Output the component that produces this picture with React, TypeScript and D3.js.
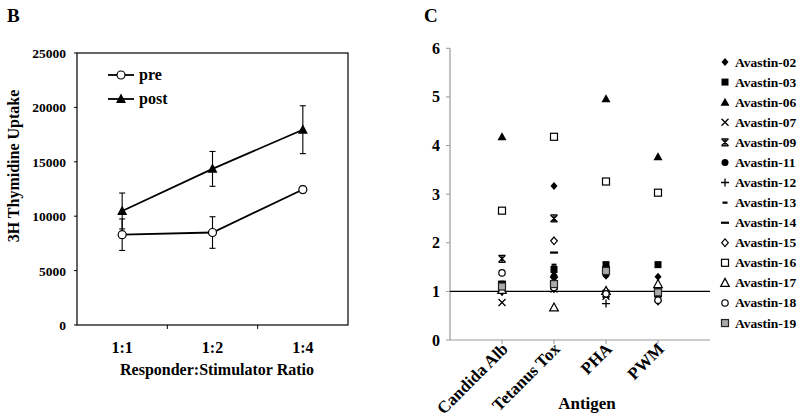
import React from 'react';
import * as d3 from 'd3';

// ---------- Panel B data ----------
const ratios = ['1:1', '1:2', '1:4'];
const preMean = [8300, 8500, 12450];
const preErr = [1450, 1450, 300];
const postMean = [10480, 14350, 17950];
const postErr = [1650, 1600, 2200];
const leftTicks = [0, 5000, 10000, 15000, 20000, 25000];

// ---------- Panel C data ----------
const antigens = ['Candida Alb', 'Tetanus Tox', 'PHA', 'PWM'];
const patients = [
  'Avastin-02', 'Avastin-03', 'Avastin-06', 'Avastin-07', 'Avastin-09', 'Avastin-11', 'Avastin-12',
  'Avastin-13', 'Avastin-14', 'Avastin-15', 'Avastin-16', 'Avastin-17', 'Avastin-18', 'Avastin-19',
];
const markerTypes = [
  'diamondFilled', 'squareFilled', 'triangleFilled', 'x', 'asterisk', 'circleFilled', 'plus',
  'dashShort', 'dashLong', 'diamondOpen', 'squareOpen', 'triangleOpen', 'circleOpen', 'squareGrey',
];
const candidaVals = [1.05, 1.12, 4.18, 0.77, 1.67, 1.1, 1.0, 1.2, 1.2, 1.0, 2.66, 1.03, 1.38, 1.1];
const tetanusVals = [3.17, 1.45, 1.35, 1.05, 2.5, 1.3, 1.05, 1.55, 1.8, 2.04, 4.18, 0.67, 1.08, 1.15];
const phaVals = [1.32, 1.55, 4.96, 0.9, 0.95, 1.35, 0.75, 0.9, 1.5, 1.0, 3.26, 1.01, 0.95, 1.42];
const pwmVals = [1.3, 1.55, 3.77, 0.95, 1.0, 1.05, 0.9, 1.0, 1.1, 0.8, 3.03, 1.15, 0.82, 0.98];
const rightTicks = [0, 1, 2, 3, 4, 5, 6];

const FONT = '"Liberation Serif", "Times New Roman", serif';

function Marker({ type, x, y }: { type: string; x: number; y: number }) {
  const t = `translate(${x},${y})`;
  const k = '#000';
  switch (type) {
    case 'diamondFilled':
      return <path transform={t} d="M0,-4L3.5,0L0,4L-3.5,0Z" fill={k} />;
    case 'squareFilled':
      return <rect x={x - 3.5} y={y - 3.5} width={7} height={7} fill={k} />;
    case 'triangleFilled':
      return <path transform={t} d="M0,-4.5L4.5,3.5L-4.5,3.5Z" fill={k} />;
    case 'x':
      return <path transform={t} d="M-3.5,-3.5L3.5,3.5M3.5,-3.5L-3.5,3.5" stroke={k} strokeWidth={1.3} fill="none" />;
    case 'asterisk':
      return <path transform={t} d="M-3.5,-3.5L3.5,3.5M3.5,-3.5L-3.5,3.5M0,-4V4M-3.5,-3.5H3.5M-3.5,3.5H3.5" stroke={k} strokeWidth={1.3} fill="none" />;
    case 'circleFilled':
      return <circle cx={x} cy={y} r={3.5} fill={k} />;
    case 'plus':
      return <path transform={t} d="M-4,0H4M0,-4V4" stroke={k} strokeWidth={1.3} fill="none" />;
    case 'dashShort':
      return <rect x={x - 2.5} y={y - 1} width={5} height={2.2} fill={k} />;
    case 'dashLong':
      return <rect x={x - 4} y={y - 1} width={8} height={2.2} fill={k} />;
    case 'diamondOpen':
      return <path transform={t} d="M0,-3.8L3.3,0L0,3.8L-3.3,0Z" fill="#fff" stroke={k} strokeWidth={1.2} />;
    case 'squareOpen':
      return <rect x={x - 3.5} y={y - 3.5} width={7} height={7} fill="#fff" stroke={k} strokeWidth={1.2} />;
    case 'triangleOpen':
      return <path transform={t} d="M0,-4.5L4.3,3.5L-4.3,3.5Z" fill="#fff" stroke={k} strokeWidth={1.2} />;
    case 'circleOpen':
      return <circle cx={x} cy={y} r={3.2} fill="#fff" stroke={k} strokeWidth={1.2} />;
    case 'squareGrey':
      return <rect x={x - 3.5} y={y - 3.5} width={7} height={7} fill="#aaa" stroke="#222" strokeWidth={1.2} />;
    default:
      return null;
  }
}

export default function App() {
  // Panel B scales
  const xB = d3.scaleBand<string>().domain(ratios).range([77, 348]).padding(0);
  const yB = d3.scaleLinear().domain([0, 25000]).range([325, 53]);
  const cx = (r: string) => (xB(r) as number) + xB.bandwidth() / 2;
  const lineGen = d3.line<number>().x((_, i) => cx(ratios[i])).y((d) => yB(d));

  // Panel C scales
  const xC = d3.scalePoint<string>().domain(antigens).range([450, 710]).padding(1);
  const yC = d3.scaleLinear().domain([0, 6]).range([340, 48.3]);
  const valsByAntigen = [candidaVals, tetanusVals, phaVals, pwmVals];

  const errBar = (m: number, e: number, x: number, key: string) => (
    <g key={key} stroke="#000" strokeWidth={1.1}>
      <line x1={x} x2={x} y1={yB(m + e)} y2={yB(m - e)} />
      <line x1={x - 3} x2={x + 3} y1={yB(m + e)} y2={yB(m + e)} />
      <line x1={x - 3} x2={x + 3} y1={yB(m - e)} y2={yB(m - e)} />
    </g>
  );

  return (
    <svg width={800} height={419} style={{ position: 'absolute', left: 0, top: 0, background: '#fff' }} fontFamily={FONT} fontWeight="bold">
      <rect width={800} height={419} fill="#fff" />
      {/* ===== Panel B ===== */}
      <text x={7} y={22} fontSize={19}>B</text>
      <rect x={77} y={53} width={271} height={272} fill="none" stroke="#000" strokeWidth={1.2} />
      {leftTicks.map((t) => (
        <g key={'yt' + t}>
          <line x1={74} x2={77} y1={yB(t)} y2={yB(t)} stroke="#000" />
          <text x={66} y={yB(t) + 5} fontSize={13.5} textAnchor="end">{t}</text>
        </g>
      ))}
      {[1, 2].map((i) => (
        <line key={'xtb' + i} x1={77 + i * xB.step()} x2={77 + i * xB.step()} y1={325} y2={329} stroke="#000" />
      ))}
      {ratios.map((r) => (
        <text key={'xl' + r} x={cx(r)} y={353} fontSize={16} textAnchor="middle">{r}</text>
      ))}
      <text x={217} y={375} fontSize={16} textAnchor="middle">Responder:Stimulator Ratio</text>
      <text transform="translate(19,166) rotate(-90)" fontSize={16} textAnchor="middle">3H Thymidine Uptake</text>

      {preMean.map((m, i) => errBar(m, preErr[i], cx(ratios[i]), 'pe' + i))}
      {postMean.map((m, i) => errBar(m, postErr[i], cx(ratios[i]), 'po' + i))}
      <path d={lineGen(preMean) as string} fill="none" stroke="#000" strokeWidth={1.8} />
      <path d={lineGen(postMean) as string} fill="none" stroke="#000" strokeWidth={1.8} />
      {preMean.map((m, i) => (
        <circle key={'pc' + i} cx={cx(ratios[i])} cy={yB(m)} r={4} fill="#fff" stroke="#000" strokeWidth={1.2} />
      ))}
      {postMean.map((m, i) => (
        <path key={'pt' + i} transform={`translate(${cx(ratios[i])},${yB(m)})`} d="M0,-5.5L5,4L-5,4Z" fill="#000" />
      ))}
      {/* legend B */}
      <line x1={108} x2={134} y1={75} y2={75} stroke="#000" strokeWidth={1.8} />
      <circle cx={121} cy={75} r={4} fill="#fff" stroke="#000" strokeWidth={1.2} />
      <text x={139} y={80} fontSize={16}>pre</text>
      <line x1={108} x2={134} y1={99} y2={99} stroke="#000" strokeWidth={1.8} />
      <path transform="translate(121,99)" d="M0,-5.5L5,4L-5,4Z" fill="#000" />
      <text x={139} y={104} fontSize={16}>post</text>

      {/* ===== Panel C ===== */}
      <text x={424} y={22} fontSize={19}>C</text>
      <line x1={450} x2={450} y1={48.3} y2={340} stroke="#999" strokeWidth={1.2} />
      <line x1={450} x2={710} y1={340} y2={340} stroke="#999" strokeWidth={1.2} />
      {rightTicks.map((t) => (
        <g key={'yc' + t}>
          <line x1={446} x2={450} y1={yC(t)} y2={yC(t)} stroke="#999" />
          <text x={440} y={yC(t) + 5.5} fontSize={16} textAnchor="end">{t}</text>
        </g>
      ))}
      {antigens.map((a) => (
        <g key={'xa' + a}>
          <line x1={(xC(a) as number)} x2={(xC(a) as number)} y1={340} y2={344} stroke="#999" />
          <text transform={`translate(${(xC(a) as number) + 7},${350}) rotate(-45)`} fontSize={17} textAnchor="end">{a}</text>
        </g>
      ))}
      <text x={587} y={409} fontSize={17} textAnchor="middle">Antigen</text>
      <line x1={450} x2={710} y1={yC(1)} y2={yC(1)} stroke="#000" strokeWidth={1.2} />
      {antigens.map((a, ai) => (
        <g key={'pts' + a}>
          {valsByAntigen[ai].map((v, pi) => (
            <Marker key={pi} type={markerTypes[pi]} x={xC(a) as number} y={yC(v)} />
          ))}
        </g>
      ))}
      {/* legend C */}
      {patients.map((p, i) => {
        const y = 62 + i * 20.08;
        return (
          <g key={'lg' + p}>
            <Marker type={markerTypes[i]} x={725} y={y} />
            <text x={735} y={y + 4.5} fontSize={13.5}>{p}</text>
          </g>
        );
      })}
    </svg>
  );
}
